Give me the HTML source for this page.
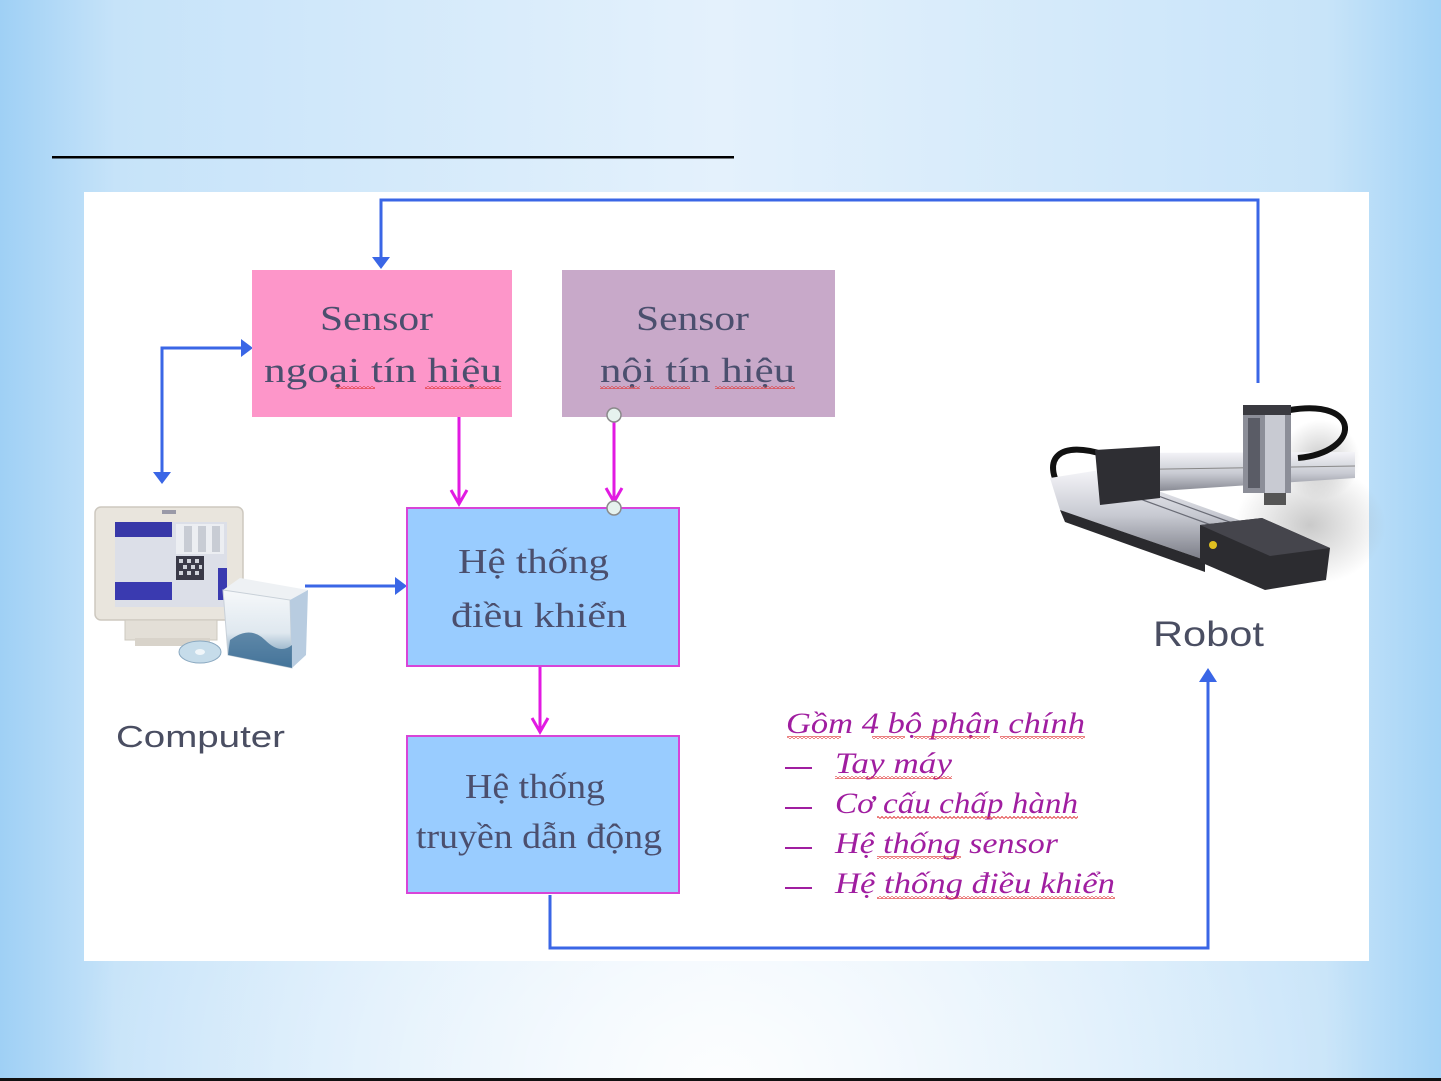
<!DOCTYPE html>
<html><head><meta charset="utf-8"><style>
html,body{margin:0;padding:0;width:1441px;height:1081px;overflow:hidden;}
svg{display:block}
.sf{font-family:"Liberation Serif","DejaVu Serif",serif;fill:#4b4f6e;font-size:35px}
.it{font-family:"Liberation Serif","DejaVu Serif",serif;font-style:italic;fill:#a01ea0;font-size:30px}
.ss{font-family:"Liberation Sans","DejaVu Sans",sans-serif;fill:#4a4e62}
</style></head><body>
<svg width="1441" height="1081" viewBox="0 0 1441 1081" xmlns="http://www.w3.org/2000/svg">
<defs>
<linearGradient id="bgh" x1="0" y1="0" x2="1" y2="0">
<stop offset="0" stop-color="#9fd0f5"/><stop offset="0.08" stop-color="#c6e3f9"/>
<stop offset="0.5" stop-color="#e4f1fc"/><stop offset="0.92" stop-color="#c8e4f9"/><stop offset="1" stop-color="#a3d3f6"/>
</linearGradient>
<radialGradient id="bgr" cx="0.5" cy="1" r="0.45">
<stop offset="0" stop-color="#ffffff" stop-opacity="0.9"/><stop offset="1" stop-color="#ffffff" stop-opacity="0"/>
</radialGradient>
<pattern id="wv" width="4" height="3" patternUnits="userSpaceOnUse">
<path d="M0,2.5 L2,0.5 L4,2.5" fill="none" stroke="#e03a3a" stroke-width="0.9"/>
</pattern>
<linearGradient id="silver" x1="0" y1="0" x2="0" y2="1">
<stop offset="0" stop-color="#f4f4f8"/><stop offset="0.5" stop-color="#c8cad2"/><stop offset="1" stop-color="#7a7c86"/>
</linearGradient>
<linearGradient id="boxg" x1="0" y1="0" x2="0" y2="1">
<stop offset="0" stop-color="#f6f8fa"/><stop offset="0.55" stop-color="#dfe8ef"/><stop offset="1" stop-color="#5a86a8"/>
</linearGradient>
<radialGradient id="shadow" cx="0.5" cy="0.5" r="0.5">
<stop offset="0" stop-color="#888" stop-opacity="0.45"/><stop offset="1" stop-color="#888" stop-opacity="0"/>
</radialGradient>
</defs>

<!-- background -->
<rect x="0" y="0" width="1441" height="1081" fill="url(#bgh)"/>
<rect x="0" y="0" width="1441" height="1081" fill="url(#bgr)"/>
<rect x="0" y="1078" width="1441" height="3" fill="#111"/>
<rect x="52" y="156" width="682" height="2.5" fill="#000"/>

<!-- panel -->
<rect x="84" y="192" width="1285" height="769" fill="#ffffff"/>

<!-- blue connectors -->
<g stroke="#3a66e6" stroke-width="3" fill="none">
<polyline points="381,260 381,200 1258,200 1258,383"/>
<polyline points="250,348 162,348 162,474"/>
<line x1="305" y1="586" x2="397" y2="586"/>
<polyline points="550,895 550,948 1208,948 1208,680"/>
</g>
<g fill="#3a66e6">
<polygon points="372,257 390,257 381,269"/>
<polygon points="241,339 241,357 253,348"/>
<polygon points="153,472 171,472 162,484"/>
<polygon points="395,577 395,595 407,586"/>
<polygon points="1199,682 1217,682 1208,668"/>
</g>

<!-- sensor boxes -->
<rect x="252" y="270" width="260" height="147" fill="#fd96c9"/>
<rect x="562" y="270" width="273" height="147" fill="#c8a9c9"/>
<text class="sf" x="320" y="330" textLength="113" lengthAdjust="spacingAndGlyphs">Sensor</text>
<text class="sf" x="264" y="382" textLength="238" lengthAdjust="spacingAndGlyphs">ngoại tín hiệu</text>
<text class="sf" x="636" y="330" textLength="113" lengthAdjust="spacingAndGlyphs">Sensor</text>
<text class="sf" x="600" y="382" textLength="195" lengthAdjust="spacingAndGlyphs">nội tín hiệu</text>
<g fill="url(#wv)">
<rect x="335" y="386" width="40" height="3"/><rect x="425" y="386" width="76" height="3"/>
<rect x="600" y="386" width="40" height="3"/><rect x="650" y="386" width="40" height="3"/><rect x="715" y="386" width="80" height="3"/>
</g>

<!-- blue boxes -->
<rect x="407" y="508" width="272" height="158" fill="#99ccff" stroke="#d844d8" stroke-width="2"/>
<rect x="407" y="736" width="272" height="157" fill="#99ccff" stroke="#d844d8" stroke-width="2"/>
<text class="sf" x="458" y="573" textLength="151" lengthAdjust="spacingAndGlyphs">Hệ thống</text>
<text class="sf" x="451" y="627" textLength="176" lengthAdjust="spacingAndGlyphs">điều khiển</text>
<text class="sf" x="465" y="798" textLength="140" lengthAdjust="spacingAndGlyphs">Hệ thống</text>
<text class="sf" x="416" y="848" textLength="246" lengthAdjust="spacingAndGlyphs">truyền dẫn động</text>

<!-- magenta connectors -->
<g stroke="#e21ae2" stroke-width="3" fill="none">
<line x1="459" y1="417" x2="459" y2="504"/>
<polyline points="451,490 459,504 467,490"/>
<line x1="614" y1="420" x2="614" y2="502"/>
<polyline points="606,488 614,502 622,488"/>
<line x1="540" y1="667" x2="540" y2="732"/>
<polyline points="532,718 540,732 548,718"/>
</g>
<circle cx="614" cy="415" r="7" fill="#e6f2ee" stroke="#8a8a8a" stroke-width="1.5"/>
<circle cx="614" cy="508" r="7" fill="#e6f2ee" stroke="#8a8a8a" stroke-width="1.5"/>

<!-- computer image -->
<g>
<rect x="95" y="507" width="148" height="113" rx="6" fill="#e9e5dd" stroke="#cdc8bf" stroke-width="1.5"/>
<rect x="162" y="510" width="14" height="4" fill="#9a9aa8"/>
<rect x="115" y="522" width="112" height="85" fill="#dcdfe8"/>
<rect x="115" y="522" width="57" height="15" fill="#3838a8"/>
<rect x="115" y="582" width="57" height="18" fill="#3a3ab0"/>
<rect x="176" y="524" width="48" height="30" fill="#eceef2"/>
<rect x="184" y="526" width="8" height="26" fill="#c8ccd4"/><rect x="198" y="526" width="8" height="26" fill="#c8ccd4"/><rect x="212" y="526" width="8" height="26" fill="#c8ccd4"/>
<rect x="176" y="556" width="28" height="24" fill="#3a3a48"/>
<g fill="#cfd2da"><rect x="179" y="559" width="4" height="4"/><rect x="187" y="559" width="4" height="4"/><rect x="195" y="559" width="4" height="4"/><rect x="183" y="565" width="4" height="4"/><rect x="191" y="565" width="4" height="4"/><rect x="199" y="565" width="3" height="4"/><rect x="179" y="571" width="4" height="4"/><rect x="187" y="571" width="4" height="4"/><rect x="195" y="571" width="4" height="4"/></g>
<rect x="218" y="568" width="9" height="32" fill="#3a3ab0"/>
<rect x="125" y="620" width="92" height="20" fill="#e3dfd7" stroke="#cdc8bf"/>
<rect x="135" y="638" width="75" height="8" fill="#d8d3ca"/>
<polygon points="223,590 240,578 308,590 290,600" fill="#eef1f4"/>
<polygon points="223,590 290,600 292,668 228,655" fill="url(#boxg)" stroke="#c8d0d8"/>
<polygon points="290,600 308,590 306,655 292,668" fill="#b8cce0"/>
<path d="M230,640 Q250,625 265,640 T292,645 L292,668 L228,655 Z" fill="#3f6f96" opacity="0.8"/>
<ellipse cx="200" cy="652" rx="21" ry="11" fill="#c6dcea" stroke="#8aa8c0"/>
<ellipse cx="200" cy="652" rx="5" ry="3" fill="#f0f6fa"/>
</g>
<text class="ss" x="116" y="747" font-size="31" textLength="169" lengthAdjust="spacingAndGlyphs">Computer</text>

<!-- robot image -->
<g>
<ellipse cx="1310" cy="525" rx="75" ry="60" fill="url(#shadow)"/>
<ellipse cx="1320" cy="460" rx="40" ry="40" fill="url(#shadow)"/>
<path d="M1105,455 C1060,440 1040,458 1062,492" stroke="#111" stroke-width="6" fill="none"/>
<polygon points="1050,478 1100,470 1250,524 1205,560 1060,510" fill="url(#silver)"/>
<polygon points="1060,510 1205,560 1205,572 1065,522" fill="#2a2a2e"/>
<g stroke="#6a6c76" stroke-width="1.2"><line x1="1110" y1="488" x2="1225" y2="530"/><line x1="1120" y1="482" x2="1235" y2="524"/></g>
<polygon points="1200,525 1262,518 1330,548 1326,580 1265,590 1200,562" fill="#2c2c30"/>
<polygon points="1200,525 1262,518 1330,548 1270,556" fill="#45454c"/>
<circle cx="1213" cy="545" r="4" fill="#e0c020"/>
<polygon points="1100,453 1355,452 1355,478 1100,495" fill="url(#silver)"/>
<line x1="1100" y1="470" x2="1355" y2="466" stroke="#888" stroke-width="1"/>
<polygon points="1095,450 1160,446 1160,498 1100,505" fill="#2e2e33"/>
<path d="M1290,410 C1362,398 1362,452 1298,458" stroke="#111" stroke-width="6" fill="none"/>
<rect x="1243" y="405" width="48" height="88" fill="#8c8e98"/>
<rect x="1243" y="405" width="48" height="10" fill="#3a3a40"/>
<rect x="1265" y="415" width="20" height="82" fill="#c8cad2"/>
<rect x="1248" y="418" width="12" height="70" fill="#5a5c66"/>
<rect x="1264" y="493" width="22" height="12" fill="#555"/>
</g>
<text class="ss" x="1153" y="646" font-size="35" textLength="111" lengthAdjust="spacingAndGlyphs">Robot</text>

<!-- italic list -->
<text class="it" x="786" y="733" textLength="299" lengthAdjust="spacingAndGlyphs">Gồm 4 bộ phận chính</text>
<g fill="#a01ea0">
<rect x="785" y="767" width="27" height="2"/><rect x="785" y="807" width="27" height="2"/>
<rect x="785" y="847" width="27" height="2"/><rect x="785" y="887" width="27" height="2"/>
</g>
<text class="it" x="835" y="773" textLength="117" lengthAdjust="spacingAndGlyphs">Tay máy</text>
<text class="it" x="835" y="813" textLength="243" lengthAdjust="spacingAndGlyphs">Cơ cấu chấp hành</text>
<text class="it" x="835" y="853" textLength="223" lengthAdjust="spacingAndGlyphs">Hệ thống sensor</text>
<text class="it" x="835" y="893" textLength="280" lengthAdjust="spacingAndGlyphs">Hệ thống điều khiển</text>
<g fill="url(#wv)">
<rect x="787" y="736" width="54" height="3"/><rect x="872" y="736" width="33" height="3"/><rect x="914" y="736" width="76" height="3"/><rect x="1000" y="736" width="85" height="3"/>
<rect x="835" y="776" width="117" height="3"/>
<rect x="877" y="816" width="201" height="3"/>
<rect x="877" y="856" width="84" height="3"/>
<rect x="877" y="896" width="238" height="3"/>
</g>
</svg>
</body></html>
